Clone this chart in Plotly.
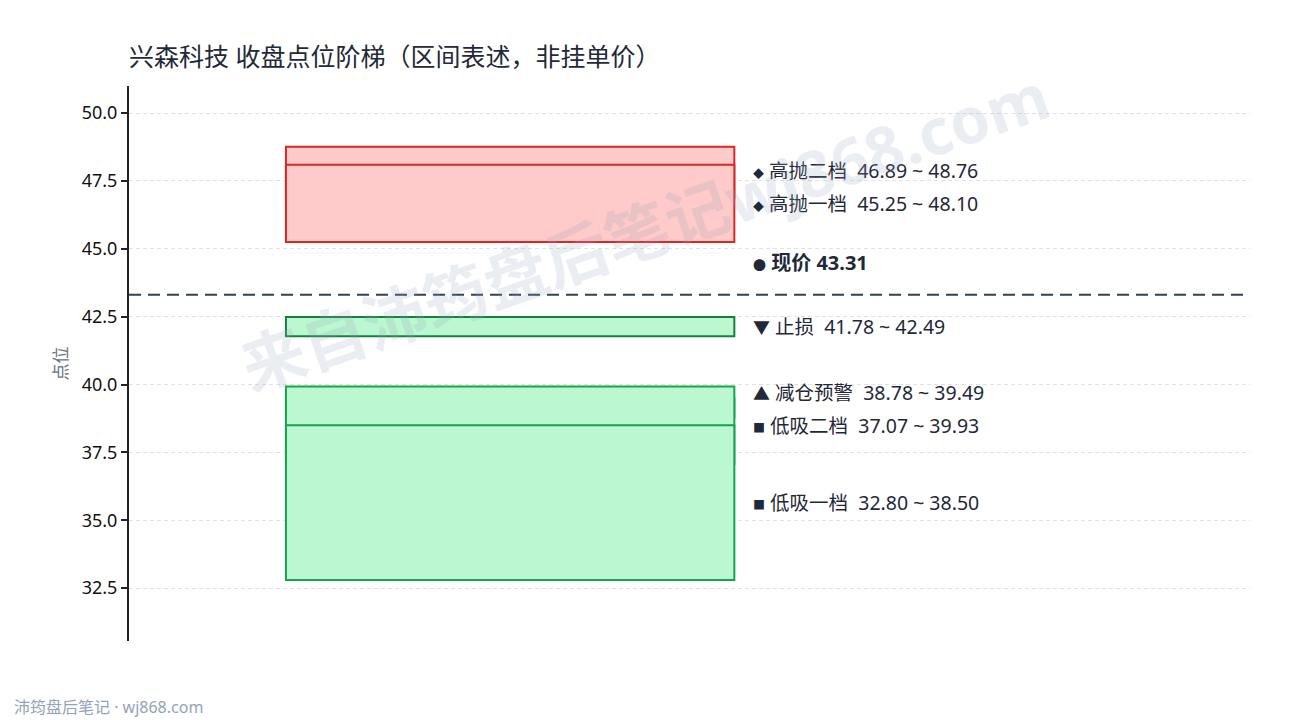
import plotly.graph_objects as go

# Levels for the closing ladder
stock_name = "兴森科技"
current_price = 43.31

zone_names = ["高抛二档", "高抛一档", "止损", "减仓预警", "低吸二档", "低吸一档"]
zone_low = [46.89, 45.25, 41.78, 38.78, 37.07, 32.80]
zone_high = [48.76, 48.10, 42.49, 39.49, 39.93, 38.50]
zone_kind = ["sell", "sell", "stop", "warn", "buy", "buy"]

tick_vals = [32.5, 35.0, 37.5, 40.0, 42.5, 45.0, 47.5, 50.0]
y_range = [30.55, 51.0]

FONT = "Noto Sans, Noto Sans CJK SC, sans-serif"
TEXT = "#1f2937"

styles = {
    "sell": dict(fill="#fecaca", line="#dc2626", sym="◆", sym_size=11),
    "stop": dict(fill="#bbf7d0", line="#15803d", sym="▼", sym_size=17),
    "warn": dict(fill="#bbf7d0", line="#16a34a", sym="▲", sym_size=17),
    "buy": dict(fill="#bbf7d0", line="#16a34a", sym="■", sym_size=12),
}

box_x0, box_x1 = 0.35, 1.35
label_x = 1.388

fig = go.Figure()

# invisible trace so the axes exist
fig.add_trace(go.Scatter(x=[0, 2.5], y=y_range, mode="markers",
                         marker=dict(opacity=0), hoverinfo="skip", showlegend=False))

for name, lo, hi, kind in zip(zone_names, zone_low, zone_high, zone_kind):
    st = styles[kind]
    fig.add_shape(type="rect", xref="x", yref="y", x0=box_x0, x1=box_x1, y0=lo, y1=hi,
                  fillcolor=st["fill"], line=dict(color=st["line"], width=2))

# label positions: mid of each zone, pushed apart from the bottom up
mids = [(lo + hi) / 2 for lo, hi in zip(zone_low, zone_high)]
order = sorted(range(len(mids)), key=lambda i: mids[i])
label_y = list(mids)
min_gap = 1.22
for a, b in zip(order[:-1], order[1:]):
    if label_y[b] - label_y[a] < min_gap:
        label_y[b] = label_y[a] + min_gap

for i, name in enumerate(zone_names):
    st = styles[zone_kind[i]]
    sym = f"<span style='font-size:{st['sym_size']}px'>{st['sym']}</span>"
    fig.add_annotation(x=label_x, y=label_y[i], xref="x", yref="y",
                       text=f"{sym} {name}  {zone_low[i]:.2f} ~ {zone_high[i]:.2f}",
                       showarrow=False, xanchor="left", yanchor="middle",
                       font=dict(family=FONT, size=19.5, color=TEXT))

# current price
fig.add_shape(type="line", xref="paper", yref="y", x0=0, x1=1,
              y0=current_price, y1=current_price,
              line=dict(color="#334155", width=2, dash="12px,7px"))
fig.add_annotation(x=label_x, y=current_price + 1.2, xref="x", yref="y",
                   text=f"<b><span style='font-size:13px'>●</span> 现价 {current_price:.2f}</b>",
                   showarrow=False, xanchor="left", yanchor="middle",
                   font=dict(family=FONT, size=20, color=TEXT))

# watermark
fig.add_annotation(x=0.46, y=0.74, xref="paper", yref="paper",
                   text="<b>来自沛筠盘后笔记wj868.com</b>", textangle=-19,
                   showarrow=False, xanchor="center", yanchor="middle",
                   font=dict(family=FONT, size=64, color="rgba(148,163,184,0.2)"))

# footer
fig.add_annotation(x=-0.1044, y=-0.119, xref="paper", yref="paper",
                   text="沛筠盘后笔记 · wj868.com", showarrow=False,
                   xanchor="left", yanchor="middle",
                   font=dict(family=FONT, size=16, color="#94a3b8"))

fig.update_layout(
    width=1290, height=720,
    paper_bgcolor="white", plot_bgcolor="white",
    margin=dict(l=129, r=40, t=86, b=79),
    title=dict(text=f"{stock_name} 收盘点位阶梯（区间表述，非挂单价）",
               x=0, xref="paper", xanchor="left",
               y=1 - 57 / 720, yanchor="middle",
               font=dict(family=FONT, size=25, color=TEXT)),
    font=dict(family=FONT, color=TEXT),
    showlegend=False,
)
fig.update_xaxes(range=[0, 2.5], visible=False, showgrid=False, zeroline=False)
fig.update_yaxes(range=y_range, tickvals=tick_vals, tickformat=".1f",
                 showline=True, linecolor="#222222", linewidth=2,
                 ticks="outside", ticklen=6, tickwidth=2, tickcolor="#222222",
                 tickfont=dict(family=FONT, size=18, color="#111111"),
                 showgrid=True, gridcolor="#e2e2e2", griddash="4px,3px", zeroline=False,
                 title=dict(text="点位", standoff=10,
                            font=dict(family=FONT, size=17, color="#6b7280")))

fig.write_html("out.html", config={"displayModeBar": False},
               post_script="document.body.style.margin='0';")
